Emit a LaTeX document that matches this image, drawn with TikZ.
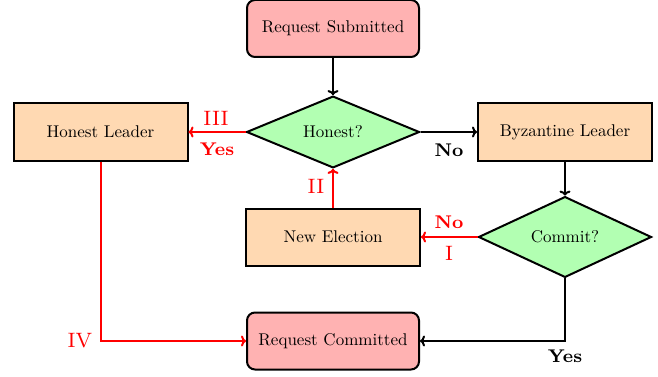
\documentclass[tikz,border=0pt]{standalone}
\usetikzlibrary{shapes.geometric,arrows.meta}
\newcommand\mytxt[1]{\scalebox{1.7}{#1}}
\newcommand\mybold[1]{\scalebox{2.3}{\footnotesize\bfseries #1}}
\newcommand\myroman[1]{\scalebox{2.6}{\footnotesize #1}}
\begin{document}
\begin{tikzpicture}[x=1pt,y=-1pt,
  base/.style={draw=black, line width=2pt, inner sep=0pt, align=center},
  roundbox/.style={base, rectangle, rounded corners=8pt, fill=red!30, minimum width=172pt, minimum height=57pt},
  orangebox/.style={base, rectangle, fill=orange!30, minimum width=174pt, minimum height=57pt},
  decision/.style={base, diamond, fill=green!30, minimum width=173pt, minimum height=68pt},
  conn/.style={line width=2pt, -{To[length=5pt,width=11pt]}},
  redconn/.style={conn, draw=red},
  redlbl/.style={text=red, inner sep=0pt},
  blklbl/.style={text=black, inner sep=0pt}]
\useasboundingbox (0,0) rectangle (658,377);
\node[roundbox] (sub) at (333,28.5) {\mytxt{Request Submitted}};
\node[decision] (hon) at (333,132) {\mytxt{Honest?}};
\node[orangebox] (hl) at (100.5,132) {\mytxt{Honest Leader}};
\node[orangebox] (bl) at (565,132) {\mytxt{Byzantine Leader}};
\node[orangebox] (ne) at (333,237) {\mytxt{New Election}};
\node[decision] (com) at (565,237) {\mytxt{Commit?}};
\node[roundbox] (rc) at (333,341) {\mytxt{Request Committed}};

\draw[conn] (sub.south) -- (hon.north);
\draw[redconn] (hon.west) -- (hl.east);
\draw[conn] (hon.east) -- (bl.west);
\draw[conn] (bl.south) -- (com.north);
\draw[redconn] (com.west) -- (ne.east);
\draw[redconn] (ne.north) -- (hon.south);
\draw[redconn] (hl.south) |- (rc.west);
\draw[conn] (com.south) |- (rc.east);

\node[redlbl] (l3) at (216,118) {\myroman{III}};
\node[redlbl] (y1) at (217,149) {\mybold{Yes}};
\node[blklbl] (n1) at (449,150) {\mybold{No}};
\node[redlbl] (l2) at (316,186) {\myroman{II}};
\node[redlbl] (n2) at (449,222) {\mybold{No}};
\node[redlbl] (l1) at (449,253) {\myroman{I}};
\node[redlbl] (l4) at (80,341) {\myroman{IV}};
\node[blklbl] (y2) at (565,356) {\mybold{Yes}};
\end{tikzpicture}
\end{document}
